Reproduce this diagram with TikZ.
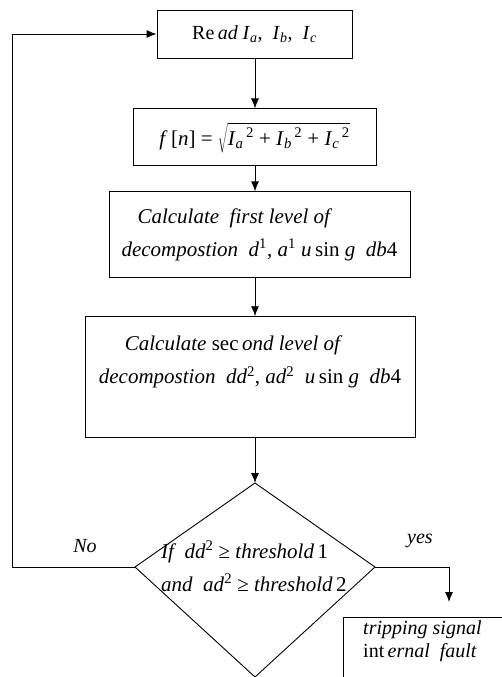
\documentclass[tikz,border=0pt]{standalone}
\usepackage{fontspec}
\setmainfont{Liberation Serif}
\usetikzlibrary{arrows.meta,positioning}

\newcommand{\isub}[1]{\textsubscript{\textit{#1}}}
\newcommand{\isup}[1]{\textsuperscript{#1}}

\begin{document}
\begin{tikzpicture}[
    x=1pt, y=-1pt,
    stepbox/.style={draw, line width=0.9pt, inner sep=0pt, font=\fontsize{21}{33}\selectfont, align=left},
    steptext/.style={inner sep=0pt, font=\fontsize{21}{33}\selectfont, align=left},
    flow/.style={-{Latex[length=10pt,width=8pt]}, line width=0.9pt}
]
\useasboundingbox (0,0) rectangle (502,677);
\node[stepbox, font=\fontsize{20}{33}\selectfont, minimum width=195pt, minimum height=48pt] (read) at (254.5,34)
    {Re\,\textit{ad I}\isub{a}, \ \textit{I}\isub{b}, \ \textit{I}\isub{c}};
\node[stepbox, minimum width=243pt, minimum height=57pt, below=50pt of read] (fn)
    {\textit{f}\,[\textit{n}] = $\sqrt{\hbox{\rule[-5pt]{0pt}{24pt}\textit{I}\isub{a}\isup{\,2} + \textit{I}\isub{b}\isup{\,2} + \textit{I}\isub{c}\isup{\,2}}}$};
\node[stepbox, minimum width=301pt, minimum height=86pt, below=25pt of fn, xshift=5pt] (first)
    {\hspace*{16pt}\textit{Calculate \ first level of}\\
     \textit{decompostion \ d}\isup{1}, \textit{a}\isup{1} \textit{u}\,sin \textit{g \ db}4};
\node[stepbox, minimum width=330pt, minimum height=121pt, below=38pt of first, xshift=-9.5pt] (second) {};
\node[steptext] (secondtxt) at ([yshift=-46pt]second.north)
    {\hspace*{26pt}\textit{Calculate} sec\,\textit{ond level of}\\
     \textit{decompostion \ dd}\isup{2}, \textit{ad}\isup{2} \ \textit{u}\,sin \textit{g \ db}4};

% decision
\coordinate (dtop) at (255,483);
\coordinate (dright) at (375,567);
\coordinate (dbot) at (255,677);
\coordinate (dleft) at (135,567);
\draw[line width=0.9pt] (dtop) -- (dright) -- (dbot) -- (dleft) -- cycle;
\node[steptext, anchor=west] (check) at (161,566)
    {\textit{If \ dd}\isup{2} ≥ \textit{threshold}\,1\\
     \textit{and \ ad}\isup{2} ≥ \textit{threshold}\,2};

\node[draw, line width=0.9pt, anchor=north west, minimum width=200pt, minimum height=100pt] (trip) at (343,617) {};
\node[inner sep=0pt, anchor=north west, font=\fontsize{20}{23}\selectfont, align=left] (triptxt) at (363,620)
    {\textit{tripping signal}\\ int\,\textit{ernal \ fault}};

\node[font=\fontsize{20}{24}\selectfont] (nolabel) at (85,546) {\textit{No}};
\node[font=\fontsize{20}{24}\selectfont] (yeslabel) at (420,541) {\textit{yes}};

% connectors
\coordinate (loop) at (12,567);
\coordinate (yesturn) at (449,567);
\coordinate (tripin) at (449,602);
\draw[flow] (read.south -| dtop) -- (fn.north -| dtop);
\draw[flow] (fn.south -| dtop) -- (first.north -| dtop);
\draw[flow] (first.south -| dtop) -- (second.north -| dtop);
\draw[flow] (second.south -| dtop) -- (dtop);
\draw[flow] (dleft) -- (loop) |- (read.west);
\draw[flow] (dright) -- (yesturn) -- (tripin);
\end{tikzpicture}
\end{document}
